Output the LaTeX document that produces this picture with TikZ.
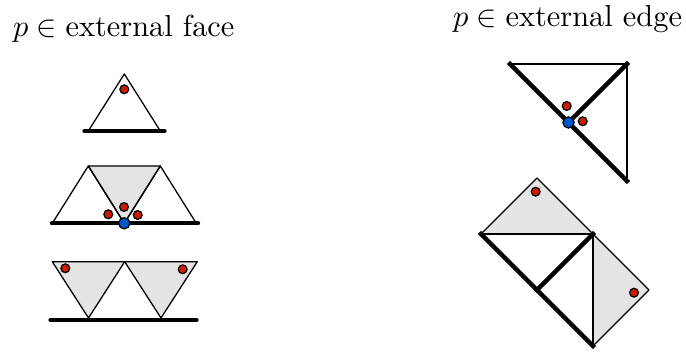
\documentclass[tikz,border=0pt]{standalone}
\usetikzlibrary{calc}
\definecolor{dotred}{RGB}{200,30,0}
\definecolor{dotblue}{RGB}{0,85,200}
\definecolor{facegray}{RGB}{228,228,228}
\tikzset{
  thin edge/.style={line width=0.42pt, line join=round},
  ext edge/.style={line width=1.45pt, line cap=round},
  ext edge r/.style={line width=1.5pt, line cap=rect},
  grayface/.style={fill=facegray, draw=black, line width=0.42pt, line join=round},
  rdot/.style={circle, fill=dotred, draw=black, line width=0.4pt, inner sep=0pt, minimum size=2.9pt},
  bdot/.style={circle, fill=dotblue, draw=black, line width=0.4pt, inner sep=0pt, minimum size=3.7pt},
  title/.style={anchor=base west, inner sep=0pt, font=\normalsize}
}
\begin{document}
\begin{tikzpicture}[x=0.329pt, y=-0.329pt]
\useasboundingbox (0,0) rectangle (686,356);
% titles
\node[title] (t1) at (12.5,36.7) {$p\in{}$external face};
\node[title] (t2) at (452.5,26.7) {$p\in{}$external edge};

% ---- left: top triangle
\coordinate (a1) at (88.3,131);
\coordinate (a2) at (160.3,131);
\coordinate (a3) at (124.3,74);
\draw[thin edge] (a1) -- (a3) -- (a2);
\draw[ext edge] (84.5,131) coordinate (e1) -- (164.5,131) coordinate (e2);
\node[rdot] (d1) at (124.3,89.3) {};

% ---- left: middle group
\coordinate (b1) at (52.3,223.3);
\coordinate (b2) at (124.3,223.3);
\coordinate (b3) at (196.3,223.3);
\coordinate (b4) at (88.3,166);
\coordinate (b5) at (160.3,166);
\filldraw[grayface] (b4) -- (b5) -- (b2) -- cycle;
\draw[thin edge] (b1) -- (b4) -- (b2);
\draw[thin edge] (b2) -- (b5) -- (b3);
\draw[ext edge] (52,223.3) coordinate (e3) -- (198,223.3) coordinate (e4);
\node[rdot] (d2) at (108.3,214.3) {};
\node[rdot] (d3) at (124,207) {};
\node[rdot] (d4) at (137.7,215) {};
\node[bdot] (d5) at (b2) {};

% ---- left: bottom group
\coordinate (c1) at (52.3,261.7);
\coordinate (c2) at (124.7,261.7);
\coordinate (c3) at (197.3,261.7);
\coordinate (c4) at (88.5,318);
\coordinate (c5) at (161,318);
\filldraw[grayface] (c1) -- (c2) -- (c4) -- cycle;
\filldraw[grayface] (c2) -- (c3) -- (c5) -- cycle;
\draw[ext edge] (50.5,320) coordinate (e5) -- (196.5,320) coordinate (e6);
\node[rdot] (d6) at (65.3,268.3) {};
\node[rdot] (d7) at (182.7,269.3) {};

% ---- right: top
\coordinate (A) at (510,64);
\coordinate (B) at (627,64);
\coordinate (C) at (627,181);
\coordinate (M) at ($(A)!0.5!(C)$);
\draw[thin edge] (A) -- (B) -- (C);
\draw[ext edge r] (A) -- (C);
\draw[ext edge r] (M) -- (B);
\node[rdot] (d8) at (566.7,106) {};
\node[rdot] (d9) at (582.7,121.3) {};
\node[bdot] (d10) at (M) {};

% ---- right: bottom
\coordinate (P) at (481,234);
\coordinate (Q) at (593,234);
\coordinate (R) at (593,346);
\coordinate (N) at ($(P)!0.5!(R)$);
\coordinate (T) at (537,178);
\coordinate (S) at (649,290);
\filldraw[grayface] (P) -- (T) -- (Q) -- cycle;
\filldraw[grayface] (Q) -- (S) -- (R) -- cycle;
\draw[thin edge] (P) -- (Q) -- (R);
\draw[ext edge r] (P) -- (R);
\draw[ext edge r] (N) -- (Q);
\node[rdot] (d11) at (535.7,191.7) {};
\node[rdot] (d12) at (634,292.7) {};
\end{tikzpicture}
\end{document}
